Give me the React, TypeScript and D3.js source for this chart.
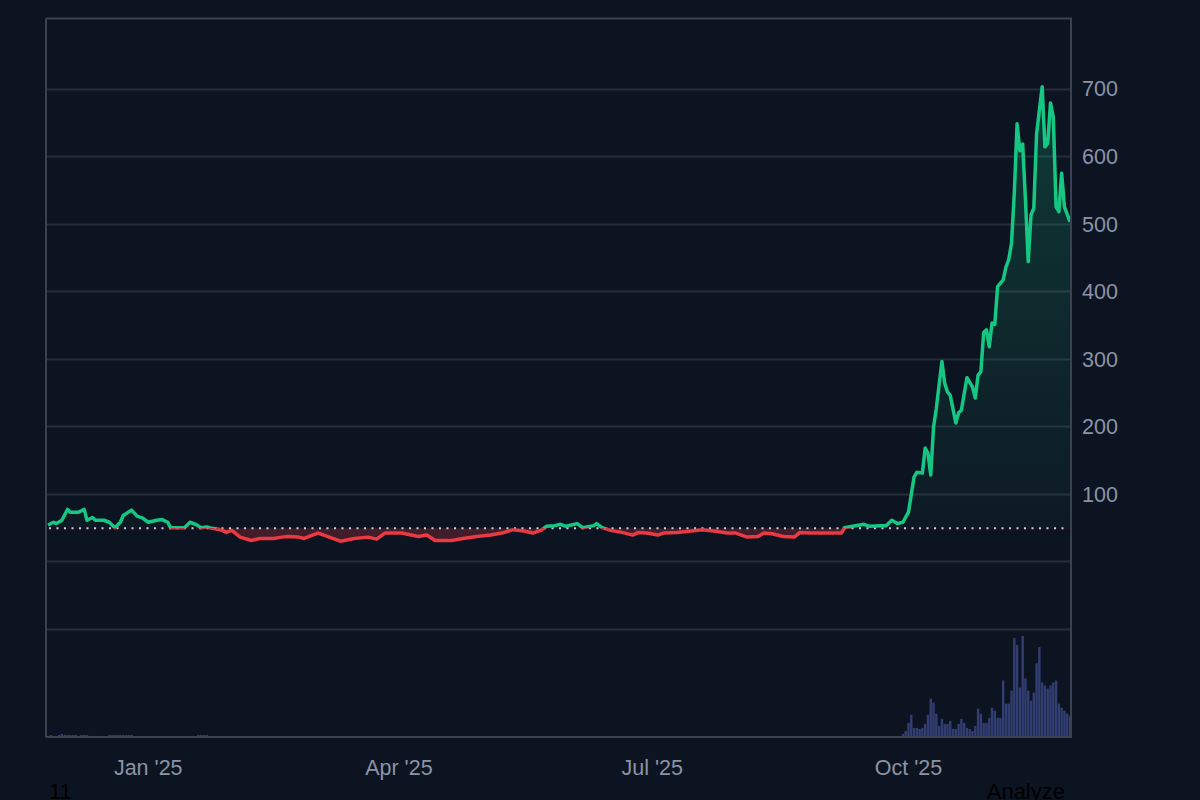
import React from 'react';
import * as d3 from 'd3';

// price readings (irregular dates)
const priceDates = [
  '2024-11-26', '2024-11-28', '2024-11-29', '2024-12-01', '2024-12-03', '2024-12-04', '2024-12-07', '2024-12-09',
  '2024-12-10', '2024-12-12', '2024-12-13', '2024-12-16', '2024-12-18', '2024-12-20', '2024-12-22', '2024-12-23',
  '2024-12-26', '2024-12-28', '2024-12-30', '2025-01-01', '2025-01-04', '2025-01-06', '2025-01-08', '2025-01-09',
  '2025-01-12', '2025-01-14', '2025-01-16', '2025-01-18', '2025-01-20', '2025-01-22', '2025-01-24', '2025-01-27',
  '2025-01-29', '2025-01-31', '2025-02-03', '2025-02-07', '2025-02-10', '2025-02-15', '2025-02-18', '2025-02-20',
  '2025-02-24', '2025-02-26', '2025-03-01', '2025-03-03', '2025-03-07', '2025-03-11', '2025-03-16', '2025-03-21',
  '2025-03-24', '2025-03-27', '2025-04-02', '2025-04-08', '2025-04-11', '2025-04-14', '2025-04-20', '2025-04-24',
  '2025-04-29', '2025-05-04', '2025-05-08', '2025-05-12', '2025-05-16', '2025-05-19', '2025-05-22', '2025-05-24',
  '2025-05-27', '2025-05-29', '2025-05-31', '2025-06-04', '2025-06-06', '2025-06-10', '2025-06-11', '2025-06-13',
  '2025-06-16', '2025-06-20', '2025-06-24', '2025-06-26', '2025-06-29', '2025-07-03', '2025-07-05', '2025-07-10',
  '2025-07-15', '2025-07-19', '2025-07-23', '2025-07-28', '2025-07-31', '2025-08-04', '2025-08-08', '2025-08-10',
  '2025-08-13', '2025-08-17', '2025-08-21', '2025-08-23', '2025-08-27', '2025-08-30', '2025-09-04', '2025-09-07',
  '2025-09-08', '2025-09-11', '2025-09-15', '2025-09-17', '2025-09-21', '2025-09-23', '2025-09-25', '2025-09-27',
  '2025-09-29', '2025-10-01', '2025-10-03', '2025-10-04', '2025-10-06', '2025-10-07', '2025-10-08', '2025-10-09',
  '2025-10-10', '2025-10-11', '2025-10-13', '2025-10-14', '2025-10-15', '2025-10-16', '2025-10-18', '2025-10-19',
  '2025-10-20', '2025-10-22', '2025-10-24', '2025-10-25', '2025-10-26', '2025-10-27', '2025-10-28', '2025-10-29',
  '2025-10-30', '2025-10-31', '2025-11-01', '2025-11-02', '2025-11-04', '2025-11-05', '2025-11-06', '2025-11-07',
  '2025-11-08', '2025-11-09', '2025-11-10', '2025-11-11', '2025-11-12', '2025-11-13', '2025-11-14', '2025-11-15',
  '2025-11-16', '2025-11-18', '2025-11-19', '2025-11-20', '2025-11-21', '2025-11-22', '2025-11-23', '2025-11-24',
  '2025-11-25', '2025-11-26', '2025-11-28',
];

const priceValues = [
  54, 58, 56, 61, 77, 73, 73, 77,
  61, 65, 61, 61, 58, 50, 58, 68,
  76, 67, 64, 58, 61, 62, 58, 50,
  50, 50, 58, 55, 50, 51, 49, 47,
  43, 46, 36, 31, 34, 34, 36, 37,
  36, 34, 39, 42, 36, 30, 34, 36,
  33, 42, 42, 37, 39, 31, 31, 34,
  37, 39, 42, 47, 45, 42, 46, 52,
  53, 55, 52, 56, 50, 53, 56, 50,
  46, 43, 39, 43, 42, 39, 42, 43,
  45, 47, 45, 42, 42, 36, 37, 42,
  41, 37, 36, 43, 42, 42, 42, 42,
  50, 52, 55, 52, 53, 53, 61, 56,
  58, 73, 125, 132, 131, 168, 160, 128,
  199, 227, 296, 264, 251, 246, 205, 220,
  224, 272, 258, 242, 276, 281, 339, 343,
  318, 353, 351, 407, 417, 436, 447, 471,
  546, 648, 608, 618, 536, 444, 513, 523,
  633, 703, 614, 619, 679, 658, 525, 518,
  575, 525, 503,
];

const baseValue = 49;

// sparse small volume early in the range
const smallVolumeDates = [
  '2024-11-27', '2024-11-30', '2024-12-01', '2024-12-02', '2024-12-03', '2024-12-04', '2024-12-05', '2024-12-06',
  '2024-12-08', '2024-12-09', '2024-12-10', '2024-12-18', '2024-12-19', '2024-12-20', '2024-12-21', '2024-12-22',
  '2024-12-23', '2024-12-24', '2024-12-25', '2024-12-26', '2025-01-19', '2025-01-20', '2025-01-21', '2025-01-22',
  '2025-07-25', '2025-07-29', '2025-07-31', '2025-08-02', '2025-08-04', '2025-08-06', '2025-08-08', '2025-09-23',
];
const smallVolumeValues = [
  2, 2, 3, 2, 2, 2, 2, 2,
  2, 2, 2, 2, 2, 2, 2, 2,
  2, 2, 2, 2, 2, 2, 2, 2,
  1, 1, 1, 1, 1, 1, 1, 1,
];

// daily volume from this date on
const dailyVolumeStart = '2025-09-29';
const dailyVolume = [
  3, 6, 14, 22, 9, 9, 8, 9, 13, 22,
  38, 34, 23, 11, 18, 13, 13, 16, 8, 8,
  13, 18, 14, 9, 8, 6, 11, 28, 23, 14,
  14, 19, 29, 26, 19, 19, 56, 33, 33, 46,
  98, 91, 49, 100, 58, 46, 36, 44, 73, 89,
  54, 51, 48, 51, 54, 56, 33, 29, 26, 23,
  21,
];

const priceGridTicks = [-100, 0, 100, 200, 300, 400, 500, 600, 700];
const priceLabelTicks = [100, 200, 300, 400, 500, 600, 700];
const xTickDates = ['2025-01-01', '2025-04-01', '2025-07-01', '2025-10-01'];

const App: React.FC = () => {
  const svgRef = React.useRef<SVGSVGElement>(null);

  React.useEffect(() => {
    if (!svgRef.current) return;

    const left = 47, right = 1071, top = 18.5, bottom = 737;
    const font = '"Liberation Sans", Arial, sans-serif';
    const green = '#16c784';
    const red = '#ea3943';

    const svg = d3.select(svgRef.current);
    svg.selectAll('*').remove();

    const parse = d3.utcParse('%Y-%m-%d');
    const prices = priceDates.map((d, i) => ({ date: parse(d)!, value: priceValues[i] }));
    const vStart = parse(dailyVolumeStart)!;
    const volumes = [
      ...smallVolumeDates.map((d, i) => ({ date: parse(d)!, value: smallVolumeValues[i] })),
      ...dailyVolume.map((v, i) => ({ date: d3.utcDay.offset(vStart, i), value: v })),
    ];

    const x = d3.scaleUtc()
      .domain([prices[0].date, prices[prices.length - 1].date])
      .range([left + 1, right - 1]);
    const y = d3.scaleLinear().domain([-260, 804]).range([bottom, top]);
    const vy = d3.scaleLinear().domain([0, 100]).range([bottom, bottom - 101]);
    const baseY = y(baseValue);

    svg.append('rect').attr('width', 1200).attr('height', 800).attr('fill', '#0d1421');

    const defs = svg.append('defs');
    defs.append('clipPath').attr('id', 'clip-above')
      .append('rect').attr('x', left).attr('y', top).attr('width', right - left).attr('height', baseY - top);
    defs.append('clipPath').attr('id', 'clip-below')
      .append('rect').attr('x', left).attr('y', baseY).attr('width', right - left).attr('height', bottom - baseY);

    const gUp = defs.append('linearGradient').attr('id', 'fill-up')
      .attr('gradientUnits', 'userSpaceOnUse').attr('x1', 0).attr('x2', 0).attr('y1', top).attr('y2', baseY);
    gUp.append('stop').attr('offset', 0).attr('stop-color', green).attr('stop-opacity', 0.24);
    gUp.append('stop').attr('offset', 1).attr('stop-color', green).attr('stop-opacity', 0.03);

    const gDown = defs.append('linearGradient').attr('id', 'fill-down')
      .attr('gradientUnits', 'userSpaceOnUse').attr('x1', 0).attr('x2', 0).attr('y1', baseY).attr('y2', bottom);
    gDown.append('stop').attr('offset', 0).attr('stop-color', red).attr('stop-opacity', 0.24);
    gDown.append('stop').attr('offset', 1).attr('stop-color', red).attr('stop-opacity', 0.02);

    // grid
    svg.append('g').selectAll('line').data(priceGridTicks).join('line')
      .attr('x1', left).attr('x2', right)
      .attr('y1', d => Math.round(y(d)) + 0.5).attr('y2', d => Math.round(y(d)) + 0.5)
      .attr('stroke', '#262d3b').attr('stroke-width', 2);

    // volume
    svg.append('g').selectAll('rect').data(volumes).join('rect')
      .attr('x', d => x(d.date) - 1.2)
      .attr('width', 2.4)
      .attr('y', d => vy(d.value))
      .attr('height', d => bottom - vy(d.value))
      .attr('fill', '#323e72');

    // baseline fills
    const area = d3.area<{ date: Date; value: number }>()
      .x(d => x(d.date)).y0(baseY).y1(d => y(d.value));
    svg.append('path').datum(prices).attr('d', area)
      .attr('fill', 'url(#fill-up)').attr('clip-path', 'url(#clip-above)');
    svg.append('path').datum(prices).attr('d', area)
      .attr('fill', 'url(#fill-down)').attr('clip-path', 'url(#clip-below)');

    // dotted base line
    svg.append('line')
      .attr('x1', left + 2).attr('x2', right - 2)
      .attr('y1', baseY).attr('y2', baseY)
      .attr('stroke', '#c9ced8').attr('stroke-width', 2)
      .attr('stroke-dasharray', '2 5.5');

    const line = d3.line<{ date: Date; value: number }>()
      .x(d => x(d.date)).y(d => y(d.value));
    svg.append('path').datum(prices).attr('d', line)
      .attr('fill', 'none').attr('stroke', green).attr('stroke-width', 3.5)
      .attr('stroke-linejoin', 'round').attr('clip-path', 'url(#clip-above)');
    svg.append('path').datum(prices).attr('d', line)
      .attr('fill', 'none').attr('stroke', red).attr('stroke-width', 3.5)
      .attr('stroke-linejoin', 'round').attr('clip-path', 'url(#clip-below)');

    // frame
    const frame = svg.append('g').attr('stroke', '#3a4150').attr('stroke-width', 2);
    frame.append('line').attr('x1', left - 1).attr('x2', right + 1).attr('y1', top).attr('y2', top);
    frame.append('line').attr('x1', left - 1).attr('x2', right + 1).attr('y1', bottom).attr('y2', bottom);
    frame.append('line').attr('x1', left - 1).attr('x2', left - 1).attr('y1', top).attr('y2', bottom);
    frame.append('line').attr('x1', right).attr('x2', right).attr('y1', top).attr('y2', bottom);

    // price labels
    svg.append('g').selectAll('text').data(priceLabelTicks).join('text')
      .attr('x', 1082).attr('y', d => y(d)).attr('dy', '0.36em')
      .attr('fill', '#8b93a5').style('font-family', font).style('font-size', '21.5px')
      .text(d => d);

    // time labels
    svg.append('g').selectAll('text').data(xTickDates).join('text')
      .attr('x', d => x(parse(d)!)).attr('y', 775)
      .attr('text-anchor', 'middle')
      .attr('fill', '#8b93a5').style('font-family', font).style('font-size', '21.5px')
      .text(d => d3.utcFormat("%b '%y")(parse(d)!));

    // leftover page text along the bottom edge
    svg.append('text').attr('x', 49).attr('y', 799)
      .attr('fill', '#000').style('font-family', font).style('font-size', '22px').text('11');
    svg.append('text').attr('x', 1065).attr('y', 799).attr('text-anchor', 'end')
      .attr('fill', '#000').style('font-family', font).style('font-size', '22px').text('Analyze');
  }, []);

  return (
    <svg
      ref={svgRef}
      width={1200}
      height={800}
      style={{ position: 'fixed', left: 0, top: 0, display: 'block' }}
    />
  );
};

export default App;
